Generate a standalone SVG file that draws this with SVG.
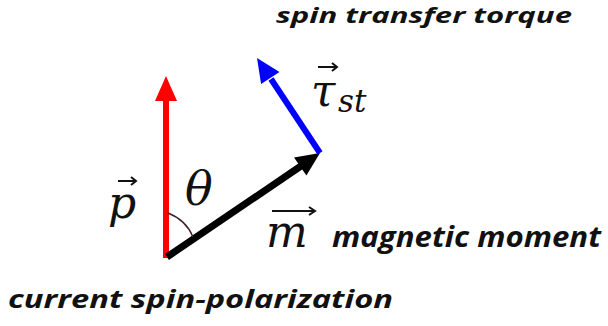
<svg xmlns="http://www.w3.org/2000/svg" width="608" height="326" viewBox="0 0 608 326">
<style>
.lbl{font-family:"Open Sans","Liberation Sans",sans-serif;font-weight:bold;font-style:italic;fill:#111}
.math{font-family:"DejaVu Serif","Liberation Serif",serif;font-style:italic;fill:#111}
.acc{stroke:#111;stroke-width:2;fill:none}
</style>
<rect width="608" height="326" fill="#fff"/>
<g id="connectors">
<g id="p-vector">
<line x1="166" y1="258" x2="166" y2="99" stroke="#f00" stroke-width="6"/>
<polygon points="166,76 155,101 177,101" fill="#f00"/>
</g>
<g id="m-vector">
<line x1="167" y1="257" x2="301" y2="166" stroke="#000" stroke-width="7"/>
<polygon points="320,153 306.4,175.6 294,157.4" fill="#000"/>
</g>
<g id="tau-vector">
<line x1="320" y1="153" x2="271" y2="79" stroke="#00f" stroke-width="6"/>
<polygon points="257,58 279.5,71.9 261.1,84.1" fill="#00f"/>
</g>
<path id="angle-arc" d="M168,213 Q186,220 193,237" stroke="#402030" stroke-width="1.5" fill="none"/>
</g>
<g id="label-p">
<text class="math" x="108" y="218" font-size="44">p</text>
<path class="acc" d="M118,181 H135 M131,177 L136,181 L131,185"/>
</g>
<g id="label-theta">
<text class="math" x="185" y="205" font-size="46">θ</text>
</g>
<g id="label-m">
<text class="math" x="266" y="247" font-size="44">m</text>
<path class="acc" d="M272,211 H314 M309,207 L315,211 L309,215"/>
</g>
<g id="label-tau">
<text class="math" x="311" y="106" font-size="44">τ</text>
<text class="math" x="338" y="112" font-size="31">st</text>
<path class="acc" d="M318,67 H336 M332,63 L337,67 L332,71"/>
</g>
<g id="label-torque">
<text class="lbl" x="276" y="23" font-size="22" textLength="296" lengthAdjust="spacingAndGlyphs">spin transfer torque</text>
</g>
<g id="label-moment">
<text class="lbl" x="332" y="247" font-size="28" textLength="269" lengthAdjust="spacingAndGlyphs">magnetic moment</text>
</g>
<g id="label-polarization">
<text class="lbl" x="8" y="308" font-size="25" textLength="385" lengthAdjust="spacingAndGlyphs">current spin-polarization</text>
</g>
</svg>
